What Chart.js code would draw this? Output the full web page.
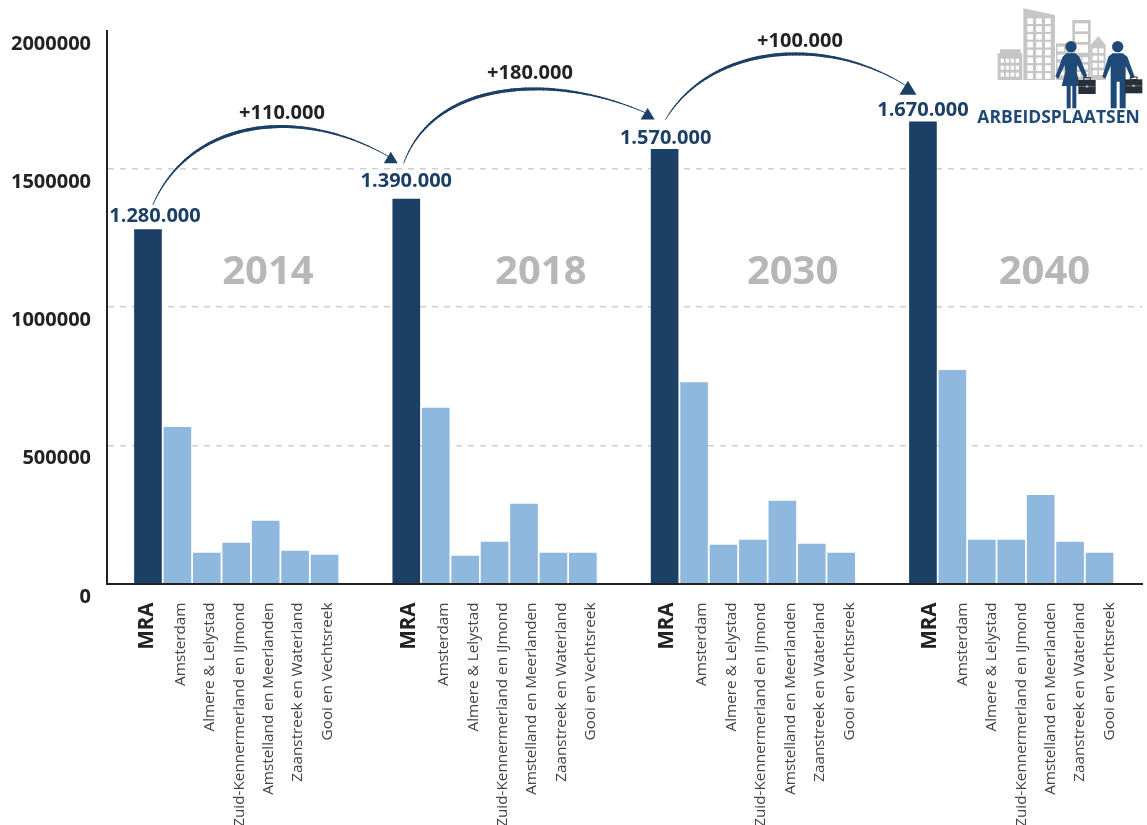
<!DOCTYPE html>
<html>
<head>
<meta charset="utf-8">
<title>Arbeidsplaatsen MRA</title>
<script src="https://cdn.jsdelivr.net/npm/chart.js@4"></script>
<style>
  html, body { margin: 0; padding: 0; background: #fff; overflow: hidden; }
  canvas { display: block; }
</style>
</head>
<body>
<canvas id="jobsChart" width="1147" height="825"></canvas>
<script>
// -------------------------------------
// Jobs per region, one value per year
// -------------------------------------
const years = ["2014", "2018", "2030", "2040"];
const regions = [
  "MRA",
  "Amsterdam",
  "Almere & Lelystad",
  "Zuid-Kennermerland en IJmond",
  "Amstelland en Meerlanden",
  "Zaanstreek en Waterland",
  "Gooi en Vechtsreek",
];

const mra = [1280000, 1390000, 1570000, 1670000];
const amsterdam = [565000, 634000, 727000, 771000];
const almereLelystad = [110000, 99000, 139000, 157000];
const zuidKennemerland = [146000, 150000, 157000, 157000];
const amstelland = [226000, 287000, 298000, 319000];
const zaanstreek = [117000, 110000, 143000, 150000];
const gooi = [103000, 110000, 110000, 110000];

const growthLabels = ["+110.000", "+180.000", "+100.000"];
const yTicks = [0, 500000, 1000000, 1500000, 2000000];

const regionSeries = [mra, amsterdam, almereLelystad, zuidKennemerland, amstelland, zaanstreek, gooi];

// -------------------------------------
// Layout + colours
// -------------------------------------
const NAVY = "#1c3f66";
const LIGHT_BLUE = "#8fb8df";
const LOGO_BLUE = "#1f4a77";
const FONT = '"Open Sans", sans-serif';

// Every year block sits this many bar slots after the previous one
const GROUP_STEP = 8.778;
const SLOT_PX = 29.45;

// Region names drift a little to the right of their bars, per block (px)
const mraTickShift = [-1, 3, 3, 7];
const regionTickShift = [3, 8, 8, 10];

// Offsets from the top of an MRA bar to the start and end of each arrow
const arrowOffsets = [
  { from: [5, -25], to: [-17.5, -42.5], lift: [[37, -85], [-90, -52]], head: 14 },
  { from: [-2.5, -36], to: [-19, -36.5], lift: [[30, -83], [-93, -41]], head: 14 },
  { from: [1, -30], to: [-17, -36], lift: [[45, -75], [-80, -51]], head: 17 },
];
const yearLabelOffsets = [120, 134.5, 128, 121.5];
const totalLabelOffsets = [[7, -13], [0, -18], [1, -11], [0, -11]];

const barPoints = [];
const tickValues = [];
const tickNames = [];

years.forEach((year, g) => {
  regions.forEach((region, r) => {
    const x = g * GROUP_STEP + r;
    const shift = r === 0 ? mraTickShift[g] : regionTickShift[g];
    barPoints.push({ x: x, y: regionSeries[r][g] });
    tickValues.push(x + shift / SLOT_PX);
    tickNames.push(region);
  });
});

const dotted = (n) => String(n).replace(/\B(?=(\d{3})+(?!\d))/g, ".");

// -------------------------------------
// Arrows between the MRA bars
// -------------------------------------
function bezierPoint(p0, p1, p2, p3, t) {
  const u = 1 - t;
  return [
    u * u * u * p0[0] + 3 * u * u * t * p1[0] + 3 * u * t * t * p2[0] + t * t * t * p3[0],
    u * u * u * p0[1] + 3 * u * u * t * p1[1] + 3 * u * t * t * p2[1] + t * t * t * p3[1],
  ];
}

function drawArrow(ctx, top, nextTop, shape) {
  const p0 = [top.x + shape.from[0], top.y + shape.from[1]];
  const p3 = [nextTop.x + shape.to[0], nextTop.y + shape.to[1]];
  const p1 = [p0[0] + shape.lift[0][0], p0[1] + shape.lift[0][1]];
  const p2 = [p3[0] + shape.lift[1][0], p3[1] + shape.lift[1][1]];

  // tapered line, thin at the start and heaviest around the crest
  ctx.strokeStyle = NAVY;
  ctx.lineCap = "round";
  const steps = 80;
  let prev = p0;
  for (let i = 1; i <= steps; i++) {
    const t = i / steps;
    const pt = bezierPoint(p0, p1, p2, p3, t);
    ctx.lineWidth = 0.7 + 2.5 * Math.sin(Math.PI * Math.min(1, t * 0.95 + 0.02)) ** 1.2 * (t < 0.6 ? 1 : 0.75 + 0.25 * (1 - t) / 0.4);
    ctx.beginPath();
    ctx.moveTo(prev[0], prev[1]);
    ctx.lineTo(pt[0], pt[1]);
    ctx.stroke();
    prev = pt;
  }

  const s = shape.head;
  ctx.fillStyle = NAVY;
  ctx.beginPath();
  ctx.moveTo(p3[0] + 2, p3[1] - 5);
  ctx.lineTo(p3[0] + 2 - s * 0.5, p3[1] - 5 + s * 0.82);
  ctx.lineTo(p3[0] + 2 + s * 0.5, p3[1] - 5 + s * 0.82);
  ctx.closePath();
  ctx.fill();
}

// -------------------------------------
// ARBEIDSPLAATSEN logo, drawn in 3x units
// -------------------------------------
function poly(ctx, pts) {
  ctx.beginPath();
  pts.forEach((p, i) => (i ? ctx.lineTo(p[0], p[1]) : ctx.moveTo(p[0], p[1])));
  ctx.closePath();
  ctx.fill();
}

function windows(ctx, x, y, cols, rows, w, h, dx, dy) {
  ctx.fillStyle = "#fff";
  for (let c = 0; c < cols; c++) {
    for (let r = 0; r < rows; r++) {
      ctx.fillRect(x + c * dx, y + r * dy, w, h);
    }
  }
}

function drawCase(ctx, x, y) {
  ctx.fillStyle = "#262f3a";
  ctx.fillRect(x, y, 52, 42);
  ctx.strokeStyle = "#262f3a";
  ctx.lineWidth = 3;
  ctx.strokeRect(x + 16, y - 7, 20, 8);
  ctx.fillStyle = "#9aa3ad";
  ctx.fillRect(x + 2, y + 19, 48, 1.5);
  ctx.fillRect(x + 22, y + 16, 8, 7);
}

function drawLogo(ctx) {
  ctx.save();
  ctx.translate(960, 0);
  ctx.scale(1 / 3, 1 / 3);

  const grey = "#c6c6c6";
  ctx.fillStyle = grey;
  poly(ctx, [[113, 240], [113, 160], [120, 160], [120, 148], [182, 148], [182, 160], [187, 160], [187, 240]]);
  windows(ctx, 122, 176, 4, 3, 10, 12, 15, 21);

  ctx.fillStyle = grey;
  poly(ctx, [[190, 25], [285, 45], [285, 240], [190, 240]]);
  windows(ctx, 202, 55, 3, 8, 17, 17, 26.5, 23.5);

  ctx.fillStyle = grey;
  ctx.fillRect(288, 130, 50, 110);
  windows(ctx, 292, 140, 2, 4, 20, 14, 24, 24);

  ctx.fillStyle = grey;
  ctx.fillRect(337, 60, 55, 180);
  windows(ctx, 345, 70, 1, 3, 39, 24, 0, 32);
  windows(ctx, 345, 172, 2, 3, 17, 14, 22, 22);

  ctx.fillStyle = grey;
  poly(ctx, [[392, 135], [415, 108], [437, 135], [437, 240], [392, 240]]);
  windows(ctx, 398, 145, 2, 4, 14, 14, 19, 22);

  // woman
  ctx.fillStyle = LOGO_BLUE;
  ctx.beginPath();
  ctx.arc(333, 140, 17, 0, Math.PI * 2);
  ctx.fill();
  poly(ctx, [[320, 160], [346, 160], [358, 170], [382, 228], [372, 234], [352, 195], [350, 215], [360, 258],
    [305, 258], [316, 215], [314, 195], [295, 236], [286, 230], [308, 170]]);
  ctx.fillRect(320, 256, 12, 69);
  ctx.fillRect(337, 256, 12, 69);

  // man
  ctx.beginPath();
  ctx.arc(473, 140, 17, 0, Math.PI * 2);
  ctx.fill();
  poly(ctx, [[458, 160], [488, 160], [502, 170], [524, 230], [514, 236], [497, 198], [497, 325], [479, 325],
    [479, 245], [470, 245], [470, 325], [452, 325], [452, 198], [436, 236], [427, 230], [445, 170]]);

  drawCase(ctx, 355, 240);
  drawCase(ctx, 495, 238);
  ctx.restore();

  ctx.fillStyle = LOGO_BLUE;
  ctx.font = "bold 17.5px " + FONT;
  ctx.textAlign = "center";
  ctx.textBaseline = "middle";
  ctx.fillText("ARBEIDSPLAATSEN", 1058.5, 118);
}

// -------------------------------------
// Everything that goes on top of the bars
// -------------------------------------
const annotationPlugin = {
  id: "jobAnnotations",
  afterDatasetsDraw(chart) {
    const ctx = chart.ctx;
    const xScale = chart.scales.x;
    const yScale = chart.scales.y;

    const tops = mra.map((v, g) => ({
      x: xScale.getPixelForValue(g * GROUP_STEP),
      y: yScale.getPixelForValue(v),
    }));

    ctx.save();
    ctx.textAlign = "center";
    ctx.textBaseline = "middle";

    // year in the middle of each block
    ctx.fillStyle = "#b7b7b7";
    ctx.font = "bold 40px " + FONT;
    years.forEach((year, g) => {
      ctx.fillText(year, tops[g].x + yearLabelOffsets[g], 272.5);
    });

    growthLabels.forEach((label, g) => {
      drawArrow(ctx, tops[g], tops[g + 1], arrowOffsets[g]);
    });

    ctx.textAlign = "center";
    ctx.textBaseline = "middle";
    ctx.fillStyle = "#222";
    ctx.font = "bold 20px " + FONT;
    ctx.fillText(growthLabels[0], 282, 113);
    ctx.fillText(growthLabels[1], 530, 73);
    ctx.fillText(growthLabels[2], 800, 41);

    // totals above the MRA bars
    ctx.fillStyle = NAVY;
    mra.forEach((v, g) => {
      const off = totalLabelOffsets[g];
      ctx.fillText(dotted(v), tops[g].x + off[0], tops[g].y + off[1]);
    });

    drawLogo(ctx);
    ctx.restore();
  },
};

// -------------------------------------
// Chart
// -------------------------------------
new Chart(document.getElementById("jobsChart"), {
  type: "bar",
  data: {
    datasets: [
      {
        data: barPoints,
        barThickness: 27,
        backgroundColor: barPoints.map((p, i) => (i % regions.length === 0 ? NAVY : LIGHT_BLUE)),
      },
    ],
  },
  options: {
    responsive: false,
    animation: false,
    layout: { padding: { top: 30.5, left: 0, right: 4, bottom: 0 } },
    plugins: {
      legend: { display: false },
      tooltip: { enabled: false },
    },
    scales: {
      x: {
        type: "linear",
        offset: false,
        min: -1.392,
        max: 33.79,
        afterBuildTicks(scale) {
          scale.ticks = tickValues.map((v) => ({ value: v }));
        },
        afterFit(scale) {
          scale.height = 241.5;
        },
        grid: { display: false, drawTicks: false },
        border: { display: true, color: "#222", width: 2 },
        ticks: {
          autoSkip: false,
          minRotation: 90,
          maxRotation: 90,
          padding: 19,
          color: (c) => (c.index % regions.length === 0 ? "#222" : "#444"),
          font: (c) =>
            c.index % regions.length === 0
              ? { family: FONT, size: 20.5, weight: "bold" }
              : { family: FONT, size: 15.3 },
          callback: (value, index) => tickNames[index],
        },
      },
      y: {
        min: 0,
        max: 2000000,
        afterBuildTicks(scale) {
          scale.ticks = yTicks.map((v) => ({ value: v }));
        },
        afterFit(scale) {
          scale.width = 107;
          scale.paddingTop = 0;
          scale.paddingBottom = 0;
        },
        grid: {
          drawTicks: false,
          lineWidth: 1.5,
          color: (c) => (c.tick.value > 0 && c.tick.value < 2000000 ? "#cfcfcf" : "rgba(0,0,0,0)"),
        },
        border: { display: true, color: "#222", width: 2, dash: [6, 6] },
        ticks: {
          padding: 16,
          color: "#222",
          font: { family: FONT, size: 20, weight: "bold", lineHeight: 1.35 },
          // the empty first line drops each label just under its grid line
          callback: (value) => ["", String(value)],
        },
      },
    },
  },
  plugins: [annotationPlugin],
});
</script>
</body>
</html>
